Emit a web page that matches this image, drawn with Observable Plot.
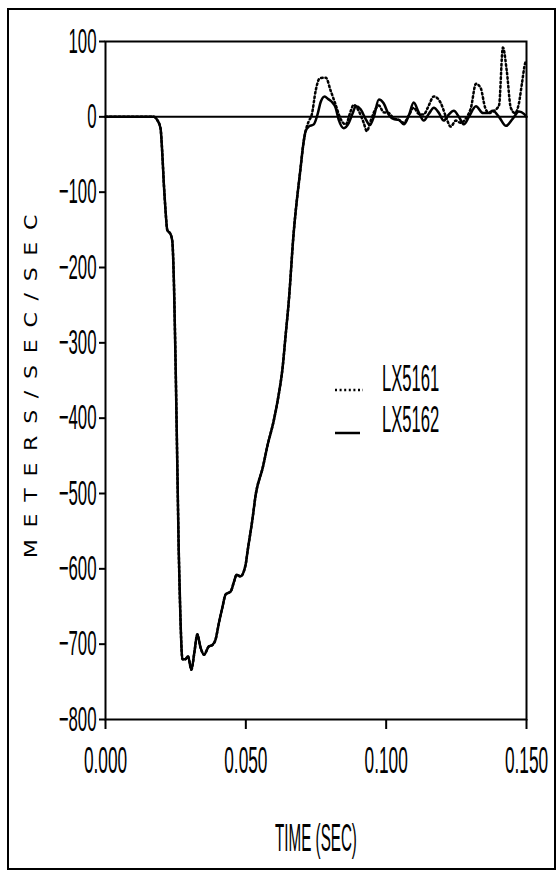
<!DOCTYPE html>
<html>
<head>
<meta charset="utf-8">
<script src="https://cdn.jsdelivr.net/npm/d3@7"></script>
<script src="https://cdn.jsdelivr.net/npm/@observablehq/plot@0.6"></script>
<style>
  html, body { margin: 0; padding: 0; background: #fff; }
  #wrap { position: relative; width: 560px; height: 872px; overflow: hidden; }
  #border { position: absolute; left: 7px; top: 8px; width: 549px; height: 862px; box-sizing: border-box; border: 2px solid #000; pointer-events: none; }
  svg text { fill: #000; }
</style>
</head>
<body>
<div id="wrap"><div id="border"></div></div>
<script>
// ---- Data ----
const seriesNames = ["LX5161", "LX5162"];
const xTicks = [0, 0.05, 0.1, 0.15];
const yTicks = [100, 0, -100, -200, -300, -400, -500, -600, -700, -800];
const xTitle = "TIME (SEC)";
const yTitle = "METERS/SEC/SEC";

// shared crash pulse (both gauges coincide)
const pulseTime = [0, 0.0150, 0.0172, 0.0184, 0.0196, 0.0202, 0.0208, 0.0214, 0.0220, 0.0232,
  0.0238, 0.0244, 0.0250, 0.0256, 0.0261, 0.0267, 0.0274, 0.0285, 0.0294, 0.0306,
  0.0317, 0.0327, 0.0339, 0.0351, 0.0368, 0.0381, 0.0392, 0.0404, 0.0416, 0.0428,
  0.0446, 0.0458, 0.0467, 0.0481, 0.0499, 0.0506, 0.0524, 0.0535, 0.0560, 0.0578,
  0.0599, 0.0617, 0.0631, 0.0642, 0.0653, 0.0670, 0.0695, 0.0706, 0.0713];
const pulseAccel = [0, 0, 0, -4, -15, -46, -90, -125, -150, -156,
  -165, -223, -333, -466, -577, -665, -720, -720, -716, -734,
  -710, -687, -705, -714, -703, -701, -694, -672, -652, -634,
  -630, -617, -608, -610, -595, -577, -533, -502, -466, -435,
  -404, -369, -333, -289, -245, -156, -68, -33, -19];

// LX5161 (dotted) after the pulse
const tail5161Time = [0.0724, 0.0735, 0.0749, 0.0763, 0.0785, 0.0802, 0.0820, 0.0838, 0.0856, 0.0874,
  0.0884, 0.0902, 0.0920, 0.0931, 0.0945, 0.0963, 0.0974, 0.0991, 0.1009, 0.1027,
  0.1045, 0.1063, 0.1081, 0.1098, 0.1116, 0.1134, 0.1148, 0.1170, 0.1195, 0.1213,
  0.1230, 0.1248, 0.1266, 0.1284, 0.1302, 0.1320, 0.1337, 0.1352, 0.1366, 0.1384,
  0.1402, 0.1416, 0.1430, 0.1444, 0.1459, 0.1473, 0.1484, 0.1495, 0.1500];
const tail5161Accel = [-6, 3, 35, 51, 52, 35, 16, -3, -10, 8,
  16, 8, -8, -19, -5, 11, 15, 6, 5, -2,
  -4, -8, 2, 12, 4, 3, 12, 27, 18, 0,
  -13, -5, -8, -2, 12, 44, 38, 13, 5, 8,
  15, 92, 60, 12, 5, 18, 45, 71, 75];

// LX5162 (solid) after the pulse
const tail5162Time = [0.0724, 0.0742, 0.0756, 0.0767, 0.0781, 0.0792, 0.0806, 0.0820, 0.0831, 0.0849,
  0.0867, 0.0881, 0.0892, 0.0909, 0.0927, 0.0942, 0.0956, 0.0974, 0.0991, 0.1009,
  0.1027, 0.1045, 0.1063, 0.1081, 0.1098, 0.1116, 0.1134, 0.1152, 0.1170, 0.1188,
  0.1205, 0.1223, 0.1241, 0.1259, 0.1277, 0.1295, 0.1320, 0.1345, 0.1362, 0.1380,
  0.1402, 0.1427, 0.1452, 0.1473, 0.1491, 0.1500];
const tail5162Accel = [-13, -10, 4, 20, 27, 24, 20, 12, -4, -15,
  -8, 5, 14, 10, -3, -11, 0, 23, 18, 3,
  -3, -4, -10, 2, 19, 6, -5, 4, 12, 5,
  -5, 3, 8, 0, -10, 0, 14, 5, 5, 8,
  0, -12, -2, 7, 4, 0];

// ---- Build tables ----
const rows = (times, vals) => times.map((t, i) => ({t, v: vals[i]}));
const data5161 = rows(pulseTime.concat(tail5161Time), pulseAccel.concat(tail5161Accel));
const data5162 = rows(pulseTime.concat(tail5162Time), pulseAccel.concat(tail5162Accel));

const chart = Plot.plot({
  width: 560,
  height: 872,
  marginLeft: 105,
  marginRight: 34,
  marginTop: 41,
  marginBottom: 153,
  style: {background: "transparent", color: "#000", overflow: "visible"},
  x: {domain: [0, 0.15]},
  y: {domain: [-800, 100]},
  marks: [
    Plot.frame({stroke: "#000", strokeWidth: 2}),
    Plot.ruleY([0], {stroke: "#000", strokeWidth: 2}),
    Plot.axisY({ticks: yTicks, tickSize: 6, tickPadding: 3, strokeWidth: 2, label: null,
      fontSize: 35, fontFamily: "Liberation Sans"}),
    Plot.axisX({ticks: xTicks, tickSize: 10, tickPadding: 18, strokeWidth: 2, tickFormat: d3.format(".3f"), label: null,
      fontSize: 36, fontFamily: "Liberation Sans"}),
    Plot.line(data5161, {x: "t", y: "v", curve: "monotone-x", stroke: "#000", strokeWidth: 2.5, strokeDasharray: "1.6,2.8"}),
    Plot.line(data5162, {x: "t", y: "v", curve: "monotone-x", stroke: "#000", strokeWidth: 2.5}),
    Plot.text([yTitle], {frameAnchor: "left", textAnchor: "middle", lineAnchor: "middle", dx: -74, rotate: -90,
      fontSize: 17, fontFamily: "DejaVu Sans", text: d => d}),
    Plot.text([xTitle], {frameAnchor: "bottom", textAnchor: "middle", lineAnchor: "middle", dy: 119,
      fontSize: 38, fontFamily: "Liberation Sans", text: d => d})
  ]
});

document.getElementById("wrap").prepend(chart);

// condense / stretch text horizontally (narrow plotter lettering)
function scaleText(sel, sx) {
  sel.each(function () {
    const el = d3.select(this);
    const tr = el.attr("transform");
    if (tr) {
      el.attr("transform", tr + ` scale(${sx},1)`);
    } else {
      const x = +el.attr("x") || 0, y = +el.attr("y") || 0;
      el.attr("x", null).attr("y", null).attr("transform", `translate(${x},${y}) scale(${sx},1)`);
    }
  });
}
const svg = d3.select(chart);
const yLab = svg.selectAll('[aria-label="y-axis tick label"] text');
const xLab = svg.selectAll('[aria-label="x-axis tick label"] text');
yLab.style("font-size", "35px").style("font-family", "'Liberation Sans'");
xLab.style("font-size", "36px").style("font-family", "'Liberation Sans'");
scaleText(yLab, 0.48);
scaleText(xLab, 0.48);
const texts = svg.selectAll('[aria-label="text"]');
const yT = d3.select(texts.nodes()[0]).selectAll("text");
yT.style("letter-spacing", "9px").style("font-size", "17px").style("font-family", "'DejaVu Sans'");
scaleText(yT, 1.3);
const xT = d3.select(texts.nodes()[1]).selectAll("text");
xT.style("font-size", "38px").style("font-family", "'Liberation Sans'");
scaleText(xT, 0.4);

// legend
const legend = svg.append("g").attr("aria-label", "legend").attr("text-anchor", "start");
const legendStyles = [{dash: "2,2.6", ty: 378, ly: 390, x2: 363}, {dash: null, ty: 419, ly: 433, x2: 360}];
seriesNames.forEach((name, i) => {
  const s = legendStyles[i];
  legend.append("line")
    .attr("x1", 335).attr("x2", s.x2).attr("y1", s.ly).attr("y2", s.ly)
    .attr("stroke", "#000").attr("stroke-width", 2.5)
    .attr("stroke-dasharray", s.dash);
  legend.append("text")
    .attr("text-anchor", "start")
    .attr("transform", `translate(382,${s.ty}) scale(0.45,1)`)
    .attr("dy", "0.35em")
    .style("font-family", "'Liberation Sans'")
    .style("font-size", "37px")
    .text(name);
});
</script>
</body>
</html>
